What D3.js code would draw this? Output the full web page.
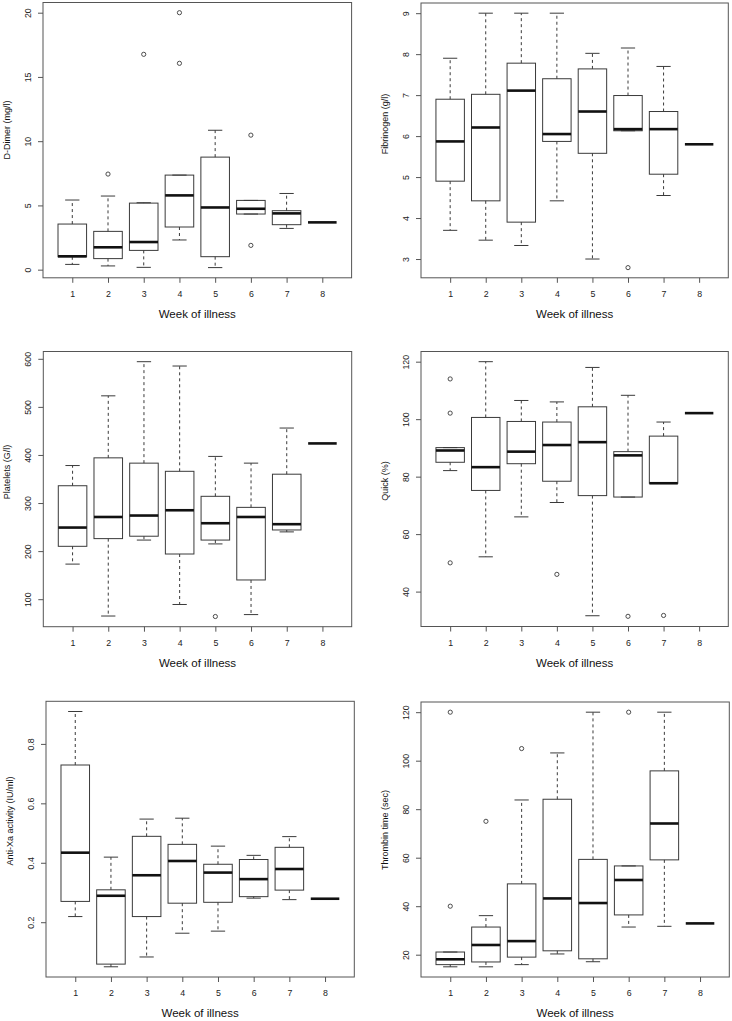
<!DOCTYPE html>
<html>
<head>
<meta charset="utf-8">
<script src="https://cdn.jsdelivr.net/npm/d3@7"></script>
<style>
  html, body { margin: 0; padding: 0; background: #fff; }
  svg { display: block; }
  text { font-family: "Liberation Sans", Arial, Helvetica, sans-serif; }
</style>
</head>
<body>
<svg id="chart" width="732" height="1021"></svg>
<script>
// ---------- data (whisker low, Q1, median, Q3, whisker high) per week ----------
const weeks = [1, 2, 3, 4, 5, 6, 7, 8];
const xTitle = "Week of illness";

const ddimerStats = [
  [0.41, 1.00, 1.04, 3.55, 5.42],
  [0.29, 0.86, 1.74, 2.98, 5.73],
  [0.18, 1.50, 2.15, 5.18, 5.21],
  [2.31, 3.32, 5.78, 7.36, 7.36],
  [0.16, 1.01, 4.84, 8.76, 10.85],
  [4.33, 4.33, 4.74, 5.39, 5.39],
  [3.21, 3.50, 4.38, 4.59, 5.93],
  [3.68, 3.68, 3.68, 3.68, 3.68]
];
const ddimerOutliers = [[], [7.44], [16.76], [20.0, 16.06], [], [10.47, 1.89], [], []];
const ddimerTicks = [0, 5, 10, 15, 20];

const fibrinogenStats = [
  [3.70, 4.90, 5.87, 6.90, 7.90],
  [3.46, 4.42, 6.21, 7.02, 9.00],
  [3.33, 3.90, 7.11, 7.78, 9.00],
  [4.42, 5.87, 6.05, 7.40, 9.00],
  [3.00, 5.58, 6.60, 7.64, 8.02],
  [6.13, 6.13, 6.17, 6.99, 8.15],
  [4.55, 5.07, 6.17, 6.60, 7.70],
  [5.80, 5.80, 5.80, 5.80, 5.80]
];
const fibrinogenOutliers = [[], [], [], [], [], [2.79], [], []];
const fibrinogenTicks = [3, 4, 5, 6, 7, 8, 9];

const plateletStats = [
  [173, 210, 249, 336, 378],
  [65, 226, 271, 394, 523],
  [223, 231, 274, 383, 594],
  [89, 194, 285, 366, 585],
  [215, 223, 258, 314, 397],
  [68, 140, 271, 291, 383],
  [240, 244, 256, 360, 456],
  [424, 424, 424, 424, 424]
];
const plateletOutliers = [[], [], [], [], [64], [], [], []];
const plateletTicks = [100, 200, 300, 400, 500, 600];

const quickStats = [
  [82.1, 85.0, 89.1, 90.1, 90.1],
  [52.1, 75.2, 83.3, 100.6, 120.0],
  [66.0, 84.5, 88.7, 99.2, 106.5],
  [71.0, 78.4, 91.0, 99.0, 106.0],
  [31.6, 73.4, 92.0, 104.3, 118.0],
  [72.9, 72.9, 87.4, 88.7, 108.3],
  [77.7, 77.7, 77.7, 94.1, 99.0],
  [102.1, 102.1, 102.1, 102.1, 102.1]
];
const quickOutliers = [[114.0, 102.1, 50.0], [], [], [46.0], [], [31.4], [31.7], []];
const quickTicks = [40, 60, 80, 100, 120];

const antiXaStats = [
  [0.219, 0.270, 0.434, 0.729, 0.909],
  [0.050, 0.059, 0.289, 0.309, 0.419],
  [0.083, 0.219, 0.358, 0.489, 0.547],
  [0.163, 0.264, 0.406, 0.462, 0.550],
  [0.170, 0.267, 0.367, 0.395, 0.456],
  [0.281, 0.286, 0.345, 0.411, 0.425],
  [0.276, 0.308, 0.379, 0.452, 0.488],
  [0.279, 0.279, 0.279, 0.279, 0.279]
];
const antiXaOutliers = [[], [], [], [], [], [], [], []];
const antiXaTicks = [0.2, 0.4, 0.6, 0.8];

const thrombinStats = [
  [15.0, 15.9, 18.1, 21.1, 21.1],
  [15.0, 17.0, 24.0, 31.4, 36.1],
  [15.9, 19.0, 25.6, 49.2, 83.8],
  [20.3, 21.6, 43.2, 84.1, 103.2],
  [17.1, 18.3, 41.3, 59.3, 120.0],
  [31.4, 36.4, 50.8, 56.6, 56.6],
  [31.7, 59.1, 74.1, 95.8, 120.0],
  [32.9, 32.9, 32.9, 32.9, 32.9]
];
const thrombinOutliers = [[120, 40], [75], [105], [], [], [120], [], []];
const thrombinTicks = [20, 40, 60, 80, 100, 120];

// ---------- layout ----------
const panels = [
  { title: "D-Dimer (mg/l)", stats: ddimerStats, out: ddimerOutliers, ticks: ddimerTicks, fmt: d3.format("d"),
    box: { l: 43, r: 351.6, t: 2.5, b: 277.8 }, titleY: 130 },
  { title: "Fibrinogen (g/l)", stats: fibrinogenStats, out: fibrinogenOutliers, ticks: fibrinogenTicks, fmt: d3.format("d"),
    box: { l: 421, r: 728.3, t: 3, b: 277.8 }, titleY: 124 },
  { title: "Platelets (G/l)", stats: plateletStats, out: plateletOutliers, ticks: plateletTicks, fmt: d3.format("d"),
    box: { l: 43.3, r: 351.7, t: 351.5, b: 626.7 }, titleY: 472 },
  { title: "Quick (%)", stats: quickStats, out: quickOutliers, ticks: quickTicks, fmt: d3.format("d"),
    box: { l: 421, r: 728.3, t: 351.5, b: 626.5 }, titleY: 481 },
  { title: "Anti-Xa activity (IU/ml)", stats: antiXaStats, out: antiXaOutliers, ticks: antiXaTicks, fmt: d3.format(".1f"),
    box: { l: 46, r: 354.3, t: 701.3, b: 977 }, titleY: 821 },
  { title: "Thrombin time (sec)", stats: thrombinStats, out: thrombinOutliers, ticks: thrombinTicks, fmt: d3.format("d"),
    box: { l: 421, r: 729.3, t: 702, b: 977 }, titleY: 830 }
];

const svg = d3.select("#chart");
const frameColor = "#555";
const boxColor = "#3a3a3a";

panels.forEach(p => {
  const B = p.box;
  const g = svg.append("g");

  // y domain as R: data range extended by 4%
  const all = [];
  p.stats.forEach(s => all.push(...s));
  p.out.forEach(o => all.push(...o));
  const lo = d3.min(all), hi = d3.max(all), pad = (hi - lo) * 0.04;
  const y = d3.scaleLinear().domain([lo - pad, hi + pad]).range([B.b, B.t]);
  const x = d3.scaleLinear().domain([0.18, 8.82]).range([B.l, B.r]);
  const unit = x(2) - x(1);
  const bw = unit * 0.8, sw = bw * 0.5;

  // boxes
  weeks.forEach((w, i) => {
    const [wl, q1, med, q3, wh] = p.stats[i];
    const cx = x(w);
    const bg = g.append("g");
    // whiskers
    if (wh > q3) {
      bg.append("line").attr("x1", cx).attr("x2", cx).attr("y1", y(q3)).attr("y2", y(wh))
        .attr("stroke", boxColor).attr("stroke-width", 1).attr("stroke-dasharray", "3,3");
    }
    if (wl < q1) {
      bg.append("line").attr("x1", cx).attr("x2", cx).attr("y1", y(q1)).attr("y2", y(wl))
        .attr("stroke", boxColor).attr("stroke-width", 1).attr("stroke-dasharray", "3,3");
    }
    // staples
    [wl, wh].forEach(v => {
      bg.append("line").attr("x1", cx - sw / 2).attr("x2", cx + sw / 2).attr("y1", y(v)).attr("y2", y(v))
        .attr("stroke", boxColor).attr("stroke-width", 1);
    });
    // box
    bg.append("rect").attr("x", cx - bw / 2).attr("y", y(q3)).attr("width", bw)
      .attr("height", Math.max(0, y(q1) - y(q3)))
      .attr("fill", "none").attr("stroke", boxColor).attr("stroke-width", 1);
    // median
    bg.append("line").attr("x1", cx - bw / 2).attr("x2", cx + bw / 2).attr("y1", y(med)).attr("y2", y(med))
      .attr("stroke", "#111").attr("stroke-width", 2.6);
    // outliers
    p.out[i].forEach(v => {
      bg.append("circle").attr("cx", cx).attr("cy", y(v)).attr("r", 2.1)
        .attr("fill", "none").attr("stroke", boxColor).attr("stroke-width", 0.9);
    });
  });

  // frame
  g.append("rect").attr("x", B.l).attr("y", B.t).attr("width", B.r - B.l).attr("height", B.b - B.t)
    .attr("fill", "none").attr("stroke", frameColor).attr("stroke-width", 1);

  // x axis
  const xa = g.append("g").attr("transform", `translate(0,${B.b})`)
    .call(d3.axisBottom(x).tickValues(weeks).tickFormat(d3.format("d")).tickSize(5).tickPadding(8));
  xa.select(".domain").remove();
  xa.selectAll("line").attr("stroke", frameColor);
  xa.selectAll("text").attr("font-size", 8.8).attr("fill", "#222")
    .attr("font-family", "Liberation Sans, Arial, sans-serif");

  // y axis
  const ya = g.append("g").attr("transform", `translate(${B.l},0)`)
    .call(d3.axisLeft(y).tickValues(p.ticks).tickFormat(p.fmt).tickSize(5));
  ya.select(".domain").remove();
  ya.selectAll("line").attr("stroke", frameColor);
  ya.selectAll("text")
    .attr("x", null).attr("dy", null)
    .attr("transform", "translate(-12,0) rotate(-90)")
    .attr("text-anchor", "middle")
    .attr("font-size", 8.8).attr("fill", "#222")
    .attr("font-family", "Liberation Sans, Arial, sans-serif");

  // titles
  g.append("text").attr("x", (B.l + B.r) / 2).attr("y", B.b + 40)
    .attr("text-anchor", "middle").attr("font-size", 11.5).attr("fill", "#111").text(xTitle);
  g.append("text").attr("transform", `translate(${B.l - 33},${p.titleY}) rotate(-90)`)
    .attr("text-anchor", "middle").attr("font-size", 9).attr("fill", "#111").text(p.title);
});
</script>
</body>
</html>
